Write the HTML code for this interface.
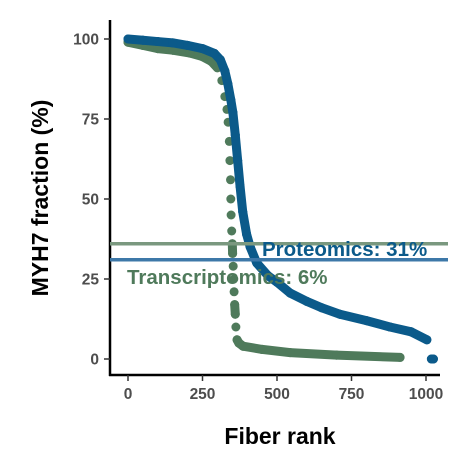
<!DOCTYPE html>
<html><head><meta charset="utf-8"><style>
body{margin:0;background:#fff}
svg{display:block;font-family:"Liberation Sans",Arial,sans-serif}
</style></head><body>
<svg id="chart" width="472" height="472">
<g id="axes"></g><g id="marks"></g>
</svg>
<script>
const xTicks=[0,250,500,750,1000];
const yTicks=[0,25,50,75,100];
const blueRanks=[0,50,100,150,200,250,290,310,325,335,345,352,360,368,376,385,398,410,432,470,500,544,600,650,711,800,879,950,1003,1018,1025];
const blueVals=[100,99.6,99.2,98.8,98,97,95.5,93.5,90,86,81,77,70,62,54,46,39,35,30,26,24,20.6,18,16,14,12,10,8.5,6,0,0];
const greenRanks=[0,50,100,150,208,250,280,300,315,325,332,336,340,342,344,345,346,348,350,351,353,355,356,358,360,362,366,372,386,450,544,700,913];
const greenVals=[99,98,97,96.5,95.6,94.5,93,91,87,82,78,74,68,62,56,50,45,40,36,33,29,25,21,17,14,10,6,5,4,3,2,1.2,0.5];
const thresholds=[{v:36,c:"#7a987f",label:"Proteomics: 31%",lc:"#0b5a8a",lx:262,ly:256},
                  {v:31,c:"#3d78a8",label:"Transcriptomics: 6%",lc:"#4f7a5b",lx:127,ly:284}];
const X=r=>128+r*0.298, Y=v=>359-v*3.2;
const NS="http://www.w3.org/2000/svg";
const axes=document.getElementById('axes'), marks=document.getElementById('marks');
function mk(tag,attrs,parent){const e=document.createElementNS(NS,tag);for(const k in attrs)e.setAttribute(k,attrs[k]);parent.appendChild(e);return e;}
let e;
e=mk('line',{x1:110,y1:20,x2:110,y2:376,stroke:'#000','stroke-width':2.5},axes);


e=mk('line',{x1:109,y1:375,x2:440,y2:375,stroke:'#000','stroke-width':2.5},axes);


xTicks.forEach(t=>{
  mk('line',{x1:X(t),y1:375,x2:X(t),y2:381,stroke:'#333','stroke-width':1.5},axes);
  e=mk('text',{x:X(t),y:399,'text-anchor':'middle','font-size':15.5,'font-weight':'bold',fill:'#4d4d4d'},axes);
  e.textContent=t;
  
  
});
yTicks.forEach(t=>{
  mk('line',{x1:104,y1:Y(t),x2:110,y2:Y(t),stroke:'#333','stroke-width':1.5},axes);
  e=mk('text',{x:99,y:Y(t)+5.5,'text-anchor':'end','font-size':15.5,'font-weight':'bold',fill:'#4d4d4d'},axes);
  e.textContent=t;
  
  
});
e=mk('text',{x:280,y:444,'text-anchor':'middle','font-size':23,'font-weight':'bold',fill:'#000'},axes);
e.textContent='Fiber rank';


e=mk('text',{x:0,y:0,transform:'translate(48,198) rotate(-90)','text-anchor':'middle','font-size':23,'font-weight':'bold',fill:'#000'},axes);
e.textContent='MYH7 fraction (%)';


function series(ranks,vals,color,name,gap){
  for(let i=1;i<ranks.length;i++){
    if(Math.abs(vals[i]-vals[i-1])>gap) continue;
    if(vals[i]<1 && vals[i-1]>3) continue;
    e=mk('line',{x1:X(ranks[i-1]),y1:Y(vals[i-1]),x2:X(ranks[i]),y2:Y(vals[i]),stroke:color,'stroke-width':9,'stroke-linecap':'round'},marks);
    
    
  }
  ranks.forEach((r,i)=>{
    e=mk('circle',{cx:X(r),cy:Y(vals[i]),r:4.5,fill:color},marks);
    
    
  });
}
series(greenRanks,greenVals,'#4f7a5b','transcriptomics',3.5);
series(blueRanks,blueVals,'#0b5a8a','proteomics',10);
thresholds.forEach(t=>{
  e=mk('line',{x1:110,y1:Y(t.v),x2:448,y2:Y(t.v),stroke:t.c,'stroke-width':3.5},marks);
  
  
});
thresholds.forEach(t=>{
  e=mk('text',{x:t.lx,y:t.ly,'font-size':20.5,'font-weight':'bold',fill:t.lc},marks);
  e.textContent=t.label;
  
  
});
</script>
</body></html>
